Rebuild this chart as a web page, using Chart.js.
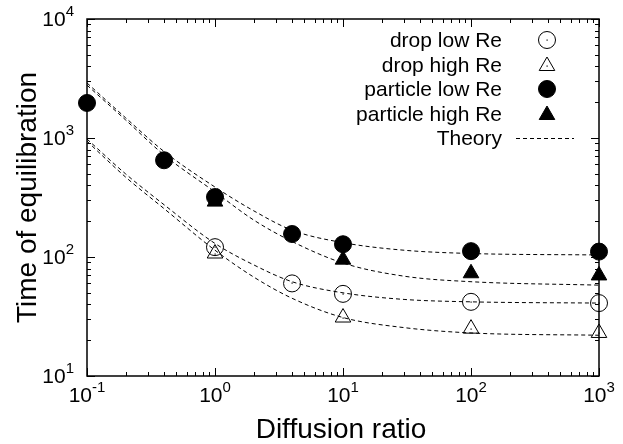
<!DOCTYPE html>
<html>
<head>
<meta charset="utf-8">
<script src="https://cdn.jsdelivr.net/npm/chart.js@4.4.1/dist/chart.umd.min.js"></script>
<style>
body { margin: 0; background: white; }
canvas { display: block; }
</style>
</head>
<body>
<canvas id="grafico" width="623" height="444"></canvas>
<script>
let razao_gota_baixo = [1, 4, 10, 100, 1000]
let tempo_gota_baixo = [121, 60, 49, 42, 41]
let razao_gota_alto = [1, 10, 100, 1000]
let tempo_gota_alto = [107, 31, 25, 23]
let razao_part_baixo = [0.1, 0.4, 1, 4, 10, 100, 1000]
let tempo_part_baixo = [1970, 650, 319, 156, 128, 112, 111]
let razao_part_alto = [1, 10, 100, 1000]
let tempo_part_alto = [292, 95, 73, 70]

// curvas teóricas
let razao_teoria = [0.1, 0.2, 0.4, 1, 2, 4, 10, 30, 100, 1000]
let teoria_part_baixo = [2900, 1480, 770, 387, 245, 168, 132, 114, 107, 104]
let teoria_part_alto = [2780, 1420, 720, 352, 205, 135, 89, 69, 62, 58]
let teoria_gota_baixo = [980, 500, 275, 130, 86, 62, 50, 44, 42, 41]
let teoria_gota_alto = [940, 470, 255, 114, 68, 45, 31, 25.5, 23, 22]

let ticks_x = [0.1, 1, 10, 100, 1000]
let ticks_y = [10, 100, 1000, 10000]
let legendas = ['drop low Re', 'drop high Re', 'particle low Re', 'particle high Re', 'Theory']
let titulo_x = 'Diffusion ratio'
let titulo_y = 'Time of equilibration'

const fonte = '"Liberation Sans", Arial, sans-serif'

function pontos(xs, ys) {
    return xs.map((x, i) => ({ x: x, y: ys[i] }))
}

function marcadores(label, xs, ys, estilo, cheio) {
    return {
        label: label,
        data: pontos(xs, ys),
        showLine: false,
        pointStyle: estilo,
        pointRadius: estilo == 'triangle' ? 9 : 8.5,
        pointHoverRadius: estilo == 'triangle' ? 9 : 8.5,
        pointBorderWidth: 1,
        pointBorderColor: 'black',
        pointBackgroundColor: cheio ? 'black' : 'rgba(0,0,0,0)',
        clip: false
    }
}

function teoria(ys) {
    return {
        label: 'Theory',
        data: pontos(razao_teoria, ys),
        showLine: true,
        borderColor: 'black',
        borderWidth: 1,
        borderDash: [4, 3],
        pointRadius: 0,
        cubicInterpolationMode: 'monotone',
        fill: false
    }
}

// desenha o triângulo igual ao do Chart.js
function triangulo(ctx, x, y, r) {
    ctx.beginPath()
    ctx.moveTo(x, y - r)
    ctx.lineTo(x + 0.866 * r, y + 0.5 * r)
    ctx.lineTo(x - 0.866 * r, y + 0.5 * r)
    ctx.closePath()
}

function rotulo(ctx, v, px, py, alinha) {
    let exp = String(Math.round(Math.log10(v)))
    ctx.font = '21px ' + fonte
    let w1 = ctx.measureText('10').width
    ctx.font = '15px ' + fonte
    let w2 = ctx.measureText(exp).width
    let x0 = alinha == 'direita' ? px - w1 - w2 : px - (w1 + w2) / 2
    ctx.textAlign = 'left'
    ctx.textBaseline = 'middle'
    ctx.font = '21px ' + fonte
    ctx.fillText('10', x0, py)
    ctx.font = '15px ' + fonte
    ctx.fillText(exp, x0 + w1, py - 8)
}

// moldura, marcas e textos
const extras = {
    id: 'extras',
    beforeDatasetsDraw(chart) {
        const ctx = chart.ctx
        const a = chart.chartArea
        const x = chart.scales.x
        const y = chart.scales.y
        ctx.save()
        ctx.strokeStyle = 'black'
        ctx.lineWidth = 1
        ctx.beginPath()
        for (let dec of ticks_x) {
            for (let m = 1; m < 10; m++) {
                let v = dec * m
                if (v > 1000) break
                let px = Math.round(x.getPixelForValue(v)) + 0.5
                let len = m == 1 ? 8 : 4
                ctx.moveTo(px, a.bottom)
                ctx.lineTo(px, a.bottom - len)
                ctx.moveTo(px, a.top)
                ctx.lineTo(px, a.top + len)
            }
        }
        for (let dec of ticks_y) {
            for (let m = 1; m < 10; m++) {
                let v = dec * m
                if (v > 10000) break
                let py = Math.round(y.getPixelForValue(v)) + 0.5
                let len = m == 1 ? 8 : 4
                ctx.moveTo(a.left, py)
                ctx.lineTo(a.left + len, py)
                ctx.moveTo(a.right, py)
                ctx.lineTo(a.right - len, py)
            }
        }
        ctx.stroke()
        ctx.lineWidth = 1.5
        ctx.strokeRect(a.left, a.top, a.right - a.left, a.bottom - a.top)

        ctx.fillStyle = 'black'
        for (let v of ticks_x) rotulo(ctx, v, x.getPixelForValue(v), 396, 'centro')
        for (let v of ticks_y) rotulo(ctx, v, 74, y.getPixelForValue(v) + 1, 'direita')

        ctx.font = '28px ' + fonte
        ctx.textAlign = 'center'
        ctx.textBaseline = 'alphabetic'
        ctx.fillText(titulo_x, (a.left + a.right) / 2 - 2, 438)
        ctx.translate(36, (a.top + a.bottom) / 2)
        ctx.rotate(-Math.PI / 2)
        ctx.fillText(titulo_y, 0, 0)
        ctx.restore()
    },
    afterDatasetsDraw(chart) {
        const ctx = chart.ctx
        ctx.save()
        ctx.fillStyle = 'black'
        // pontinho no centro dos símbolos vazios
        for (let i of [0, 1]) {
            for (let p of chart.getDatasetMeta(i).data) {
                ctx.fillRect(Math.round(p.x) - 0.5, Math.round(p.y) - 0.5, 1.2, 1.2)
            }
        }

        // legenda
        let linhas = [40, 65, 89, 114, 138]
        ctx.font = '21px ' + fonte
        ctx.textAlign = 'right'
        ctx.textBaseline = 'middle'
        ctx.strokeStyle = 'black'
        ctx.lineWidth = 1
        for (let i = 0; i < legendas.length; i++) {
            let ly = linhas[i]
            ctx.fillText(legendas[i], 502, ly + 1)
            if (i == 0 || i == 2) {
                ctx.beginPath()
                ctx.arc(547, ly, 8.5, 0, Math.PI * 2)
                if (i == 2) ctx.fill()
                ctx.stroke()
            } else if (i == 1 || i == 3) {
                triangulo(ctx, 547, ly + 1, 9)
                if (i == 3) ctx.fill()
                ctx.stroke()
            } else {
                ctx.setLineDash([4, 3])
                ctx.beginPath()
                ctx.moveTo(516, ly + 0.5)
                ctx.lineTo(574, ly + 0.5)
                ctx.stroke()
                ctx.setLineDash([])
            }
            if (i == 0 || i == 1) ctx.fillRect(546.5, ly - 0.5 + (i == 1 ? 1 : 0), 1.2, 1.2)
        }
        ctx.restore()
    }
}

new Chart(document.getElementById('grafico'), {
    type: 'scatter',
    data: {
        datasets: [
            marcadores(legendas[0], razao_gota_baixo, tempo_gota_baixo, 'circle', false),
            marcadores(legendas[1], razao_gota_alto, tempo_gota_alto, 'triangle', false),
            marcadores(legendas[2], razao_part_baixo, tempo_part_baixo, 'circle', true),
            marcadores(legendas[3], razao_part_alto, tempo_part_alto, 'triangle', true),
            teoria(teoria_part_baixo),
            teoria(teoria_part_alto),
            teoria(teoria_gota_baixo),
            teoria(teoria_gota_alto)
        ]
    },
    options: {
        responsive: false,
        animation: false,
        devicePixelRatio: 1,
        layout: { padding: { top: 19, right: 24, left: 0, bottom: 0 } },
        plugins: { legend: { display: false }, tooltip: { enabled: false } },
        scales: {
            x: {
                type: 'logarithmic',
                min: 0.1,
                max: 1000,
                grid: { display: false },
                border: { display: false },
                ticks: { display: false },
                afterFit: function (s) { s.height = 68 }
            },
            y: {
                type: 'logarithmic',
                min: 10,
                max: 10000,
                grid: { display: false },
                border: { display: false },
                ticks: { display: false },
                afterFit: function (s) { s.width = 87 }
            }
        }
    },
    plugins: [extras]
})
</script>
</body>
</html>
